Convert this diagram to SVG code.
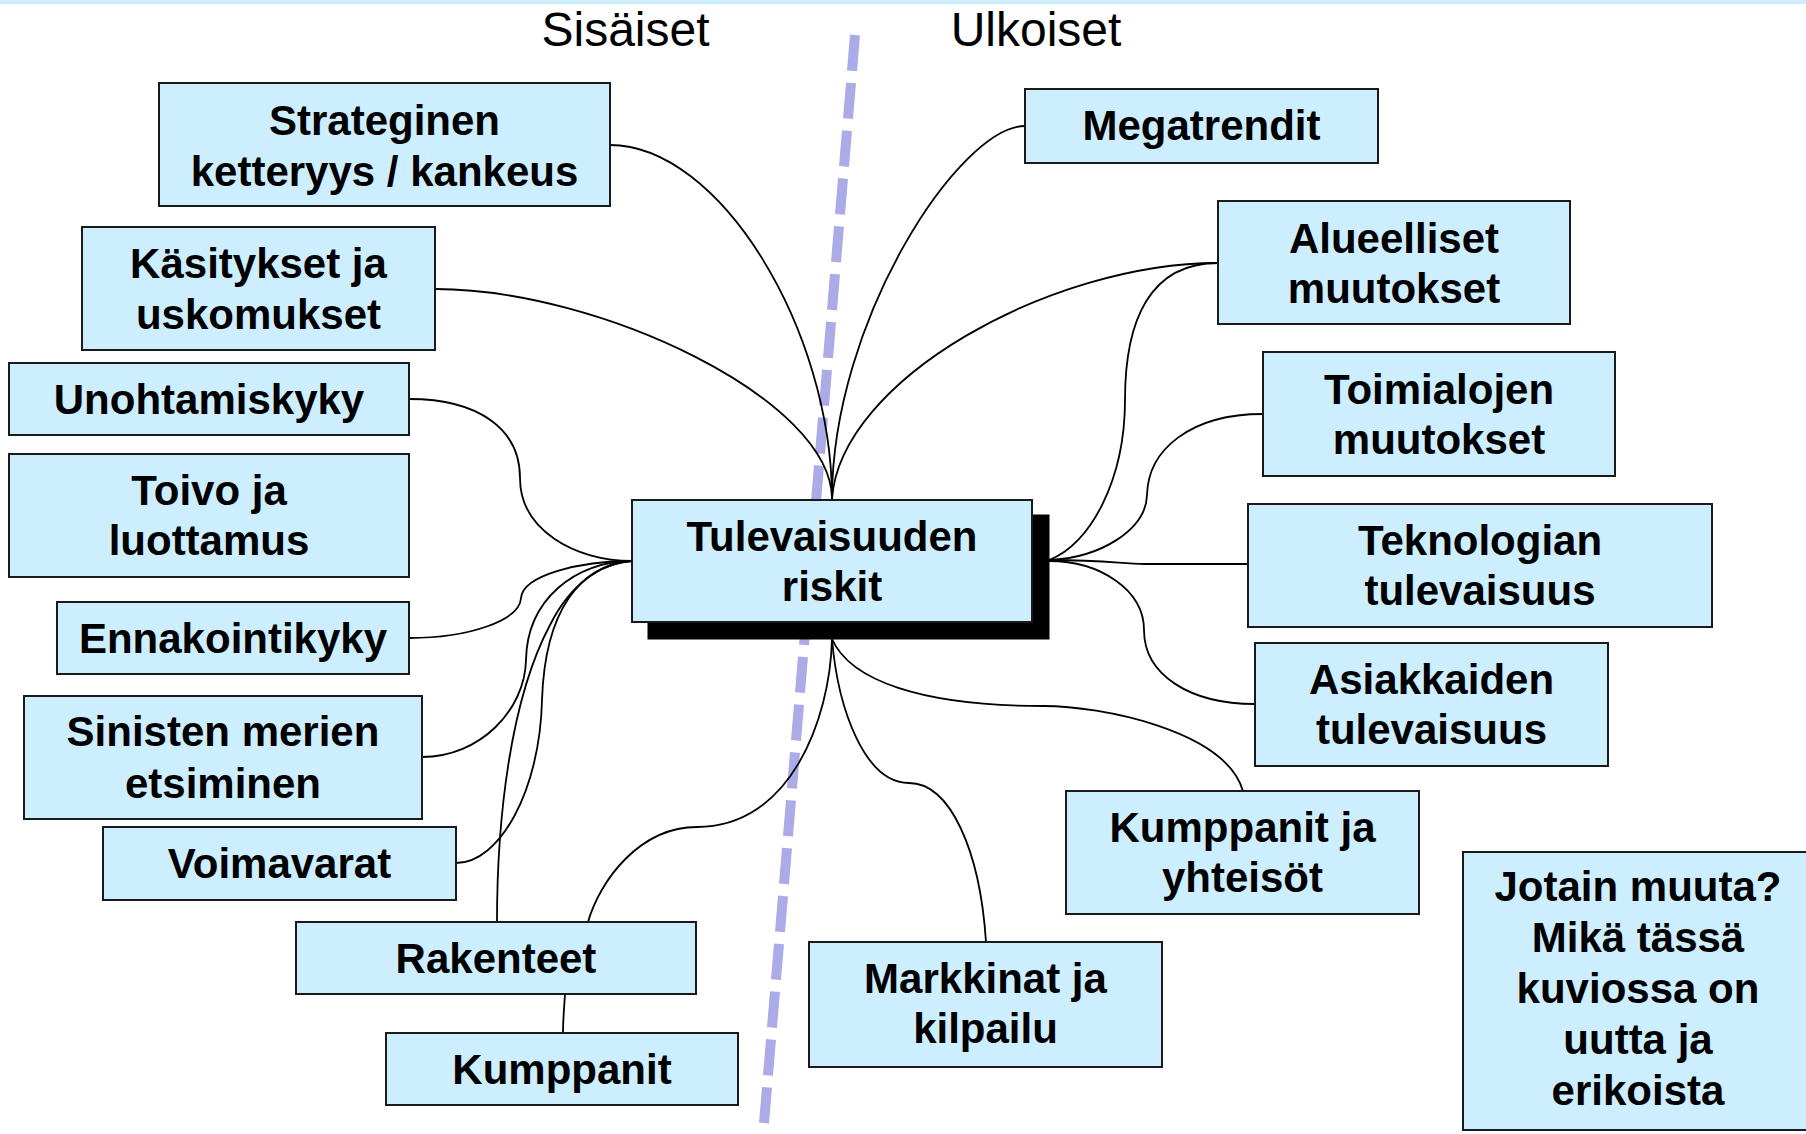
<svg xmlns="http://www.w3.org/2000/svg" width="1806" height="1134" viewBox="0 0 1806 1134">
<style>
.bx{fill:#cceeff;stroke:#1a1a1a;stroke-width:2}
.t{font-family:"Liberation Sans",Arial,sans-serif;font-weight:bold;font-size:42px;fill:#000;text-anchor:middle}
.h{font-family:"Liberation Sans",Arial,sans-serif;font-size:48px;fill:#000;text-anchor:middle}
.c{fill:none;stroke:#000;stroke-width:1.8}
</style>
<rect x="0" y="0" width="1806" height="4" fill="#cceeff"/>
<line x1="855" y1="35" x2="764" y2="1123" stroke="#ababe8" stroke-width="10" stroke-dasharray="36 12"/>
<text class="h" x="625.5" y="46">Sisäiset</text>
<text class="h" x="1036" y="46">Ulkoiset</text>
<g id="connectors">
<path class="c" d="M610,145 C720,145 832,330 832,499"/>
<path class="c" d="M435,289 C600,289 832,400 832,499"/>
<path class="c" d="M1025,126 C960,126 832,320 832,499"/>
<path class="c" d="M1218,263 C1050,263 840,380 832,499"/>
<path class="c" d="M1218,263 C1150,263 1125,320 1125,400 C1125,480 1090,545 1049,560"/>
<path class="c" d="M1263,414 C1190,414 1148,450 1147,495 C1146,530 1100,558 1049,560"/>
<path class="c" d="M1049,560 C1110,560 1120,564 1145,564 L1248,564"/>
<path class="c" d="M1049,561 C1100,561 1144,590 1144,630 C1144,675 1190,704 1255,704"/>
<path class="c" d="M409,399 C480,399 520,430 520,478 C520,530 575,561 632,561"/>
<path class="c" d="M409,638 C470,638 520,620 521,598 C523,575 580,561 632,561"/>
<path class="c" d="M422,757 C480,757 525,710 526,660 C527,600 575,561 632,561"/>
<path class="c" d="M456,863 C500,863 540,790 542,700 C545,610 580,565 632,561"/>
<path class="c" d="M497,922 C497,820 510,700 550,625 C570,585 600,563 632,561"/>
<path class="c" d="M832,639 C830,720 790,827 697,827 C640,827 600,880 588,922"/>
<path class="c" d="M565,994 C564,1010 563,1020 563,1033"/>
<path class="c" d="M832,639 C838,710 865,783 909,783 C950,783 980,850 986,942"/>
<path class="c" d="M832,639 C850,680 920,706 1044,706 C1100,706 1225,730 1243,791"/>
</g>
<g id="n-center">
<rect x="647.5" y="514.5" width="402" height="125" fill="#000"/>
<rect class="bx" x="632" y="500" width="400" height="122"/>
<text class="t" x="832" y="550.5">Tulevaisuuden</text>
<text class="t" x="832" y="601">riskit</text>
</g>
<g id="n-strateginen">
<rect class="bx" x="159" y="83" width="451" height="123"/>
<text class="t" x="384.5" y="134.5">Strateginen</text>
<text class="t" x="384.5" y="185.5">ketteryys / kankeus</text>
</g>
<g id="n-kasitykset">
<rect class="bx" x="82" y="227" width="353" height="123"/>
<text class="t" x="258.5" y="278">Käsitykset ja</text>
<text class="t" x="258.5" y="329">uskomukset</text>
</g>
<g id="n-unohtamiskyky">
<rect class="bx" x="9" y="363" width="400" height="72"/>
<text class="t" x="209" y="414">Unohtamiskyky</text>
</g>
<g id="n-toivo">
<rect class="bx" x="9" y="454" width="400" height="123"/>
<text class="t" x="209" y="504.5">Toivo ja</text>
<text class="t" x="209" y="555">luottamus</text>
</g>
<g id="n-ennakointikyky">
<rect class="bx" x="57" y="602" width="352" height="72"/>
<text class="t" x="233" y="652.5">Ennakointikyky</text>
</g>
<g id="n-sinisten">
<rect class="bx" x="24" y="696" width="398" height="123"/>
<text class="t" x="223" y="746">Sinisten merien</text>
<text class="t" x="223" y="797.5">etsiminen</text>
</g>
<g id="n-voimavarat">
<rect class="bx" x="103" y="827" width="353" height="73"/>
<text class="t" x="279.5" y="877.5">Voimavarat</text>
</g>
<g id="n-rakenteet">
<rect class="bx" x="296" y="922" width="400" height="72"/>
<text class="t" x="496" y="972.5">Rakenteet</text>
</g>
<g id="n-kumppanit">
<rect class="bx" x="386" y="1033" width="352" height="72"/>
<text class="t" x="562" y="1083.5">Kumppanit</text>
</g>
<g id="n-megatrendit">
<rect class="bx" x="1025" y="89" width="353" height="74"/>
<text class="t" x="1201.5" y="140">Megatrendit</text>
</g>
<g id="n-alueelliset">
<rect class="bx" x="1218" y="201" width="352" height="123"/>
<text class="t" x="1394" y="252.5">Alueelliset</text>
<text class="t" x="1394" y="302.5">muutokset</text>
</g>
<g id="n-toimialojen">
<rect class="bx" x="1263" y="352" width="352" height="124"/>
<text class="t" x="1439" y="403.5">Toimialojen</text>
<text class="t" x="1439" y="453.5">muutokset</text>
</g>
<g id="n-teknologian">
<rect class="bx" x="1248" y="504" width="464" height="123"/>
<text class="t" x="1480" y="555">Teknologian</text>
<text class="t" x="1480" y="605">tulevaisuus</text>
</g>
<g id="n-asiakkaiden">
<rect class="bx" x="1255" y="643" width="353" height="123"/>
<text class="t" x="1431.5" y="693.5">Asiakkaiden</text>
<text class="t" x="1431.5" y="744">tulevaisuus</text>
</g>
<g id="n-kumppanitja">
<rect class="bx" x="1066" y="791" width="353" height="123"/>
<text class="t" x="1242.5" y="841.5">Kumppanit ja</text>
<text class="t" x="1242.5" y="892">yhteisöt</text>
</g>
<g id="n-markkinat">
<rect class="bx" x="809" y="942" width="353" height="125"/>
<text class="t" x="985.5" y="993">Markkinat ja</text>
<text class="t" x="985.5" y="1042.5">kilpailu</text>
</g>
<g id="n-jotain">
<rect class="bx" x="1463" y="852" width="346" height="278"/>
<text class="t" x="1638" y="901">Jotain muuta?</text>
<text class="t" x="1638" y="952">Mikä tässä</text>
<text class="t" x="1638" y="1003">kuviossa on</text>
<text class="t" x="1638" y="1054">uutta ja</text>
<text class="t" x="1638" y="1105">erikoista</text>
</g>
</svg>
